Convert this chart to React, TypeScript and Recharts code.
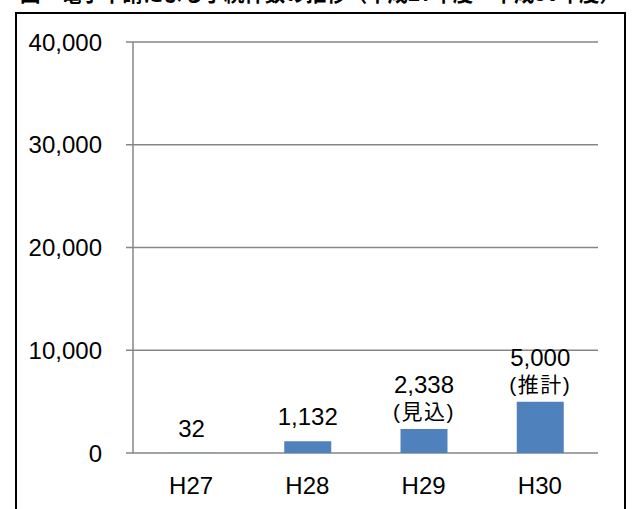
import React from "react";
import {
  BarChart,
  Bar,
  XAxis,
  YAxis,
  CartesianGrid,
  LabelList,
} from "recharts";

// Data
const YEARS = ["H27", "H28", "H29", "H30"];
const COUNTS = [32, 1132, 2338, 5000];
const NOTES = ["", "", "(見込)", "(推計)"];
const Y_TICKS = [0, 10000, 20000, 30000, 40000];
const TITLE = "図　電子申請による手続件数の推移（平成27年度～平成30年度）";

const FONT = "'Liberation Sans', Arial, 'Noto Sans CJK JP', sans-serif";
const GRID = "#868686";
const BAR = "#4f81bd";

const chartData = YEARS.map((year, i) => ({ year, count: COUNTS[i] }));

const fmt = (v: number) => v.toLocaleString("en-US");

// value + optional note above each bar
function BarLabel(props: any) {
  const { x, y, width, index, value } = props;
  const i = typeof index === "number" ? index : COUNTS.indexOf(Number(value));
  const cx = Number(x) + Number(width) / 2;
  const top = Number(y);
  const note = NOTES[i];
  if (!note) {
    return (
      <text x={cx} y={top - 16} textAnchor="middle" fontSize={24} fill="#000" fontFamily={FONT}>
        {fmt(Number(value))}
      </text>
    );
  }
  return (
    <g fontFamily={FONT} fill="#000" textAnchor="middle">
      <text x={cx} y={top - 36} fontSize={24}>
        {fmt(Number(value))}
      </text>
      <text x={cx} y={top - 10} fontSize={21} letterSpacing={1.5}>
        {note}
      </text>
    </g>
  );
}

export default function App() {
  return (
    <div style={{ position: "absolute", left: 0, top: 0, width: 632, height: 509, background: "#fff", overflow: "hidden" }}>
      {/* frame + title (cut off at the top, as in the source) */}
      <svg width={632} height={509} style={{ position: "absolute", left: 0, top: 0 }}>
        <text
          x={20}
          y={1}
          fontSize={22}
          fontWeight="bold"
          fontFamily="'Noto Sans CJK JP', sans-serif"
          textLength={600}
          lengthAdjust="spacingAndGlyphs"
        >
          {TITLE}
        </text>
        <path d="M16,530 L16,13 L625,13 L625,530" fill="none" stroke="#000" strokeWidth={2} />
      </svg>
      <div style={{ position: "absolute", left: 0, top: 0 }}>
        <BarChart
          width={632}
          height={509}
          data={chartData}
          margin={{ top: 42, right: 34, left: 20, bottom: 0 }}
          barSize={47}
        >
          <CartesianGrid vertical={false} stroke={GRID} strokeWidth={1.5} xAxisId="cat" />
          <XAxis
            xAxisId="bounds"
            type="number"
            domain={[0, 4]}
            ticks={[0, 1, 2, 3, 4]}
            height={0}
            tickSize={9}
            tickFormatter={() => ""}
            stroke={GRID}
            strokeWidth={1.5}
          />
          <XAxis
            xAxisId="cat"
            dataKey="year"
            axisLine={false}
            tickLine={false}
            height={56}
            tickSize={0}
            tickMargin={24}
            tick={{ fontSize: 24, fill: "#000", fontFamily: FONT }}
          />
          <YAxis
            width={113}
            domain={[0, 40000]}
            ticks={Y_TICKS}
            tickFormatter={fmt}
            tickSize={7}
            tickMargin={24}
            stroke={GRID}
            strokeWidth={1.5}
            tick={{ fontSize: 24, fill: "#000", fontFamily: FONT }}
          />
          <Bar dataKey="count" xAxisId="cat" fill={BAR} isAnimationActive={false}>
            <LabelList dataKey="count" content={BarLabel} />
          </Bar>
        </BarChart>
      </div>
    </div>
  );
}
